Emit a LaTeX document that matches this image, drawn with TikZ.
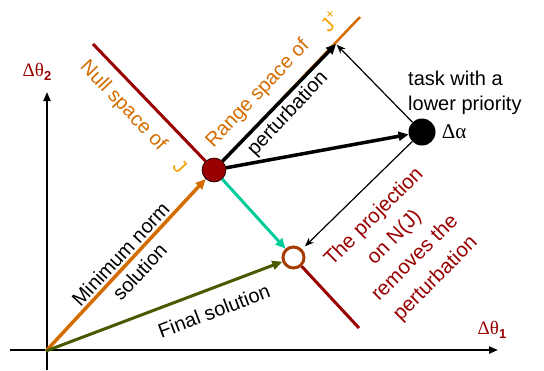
\documentclass[tikz,border=0pt]{standalone}
\usepackage{fontspec}
\setmainfont{Liberation Sans}
\newfontfamily\grk{Liberation Serif}
\usetikzlibrary{arrows.meta}
\usetikzlibrary{positioning}
\definecolor{nullred}{RGB}{153,0,0}
\definecolor{rangeorange}{RGB}{212,108,0}
\definecolor{jorange}{RGB}{245,160,0}
\definecolor{corrteal}{RGB}{0,204,153}
\definecolor{finalolive}{RGB}{72,90,0}
\definecolor{projbrown}{RGB}{166,61,0}
\newcommand{\dth}[1]{{\grk\fontsize{19}{19}\selectfont Δθ}\raisebox{-4pt}{\fontsize{13}{13}\selectfont\bfseries #1}}
\tikzset{
	>={Triangle[length=10pt,width=9pt]},
	axis/.style={draw, line width=2pt, -{Triangle[length=9pt,width=7pt]}},
	vec/.style={draw, line width=3.5pt, ->},
	thinvec/.style={draw, line width=1.2pt, -{Stealth[length=9pt,width=7pt]}},
	lbl/.style={font=\fontsize{20}{26}\selectfont, inner sep=0pt, align=center},
	dot/.style={circle, inner sep=0pt, minimum size=#1},
}

\begin{document}
\begin{tikzpicture}[x=1pt,y=-1pt]
	\useasboundingbox (0,0) rectangle (544,370);
	% axes
	\coordinate (O) at (46,351);
	\coordinate (xend) at (498,350);
	\coordinate (yend) at (47,92);
	\draw[axis] (10,350) -- (xend);
	\draw[axis] (47,370) -- (yend);
	\node[text=nullred] (th2) at (37,72) {\dth{2}};
	\node[text=nullred] (th1) at (492,330) {\dth{1}};

	% the two subspaces
	\coordinate (nulltop) at (93,44);
	\coordinate (nullbot) at (359,328);
	\coordinate (rangetop) at (360,17);
	\coordinate (ptip) at (336,44);
	\node[dot=24pt, fill=nullred, draw=black, line width=0.6pt] (R) at (214,170) {};
	\node[dot=21pt, fill=white, draw=projbrown, line width=3pt] (P) at (293.5,257.5) {};
	\node[dot=27pt, fill=black] (A) at (422,132) {};
	\draw[nullred, line width=3pt] (nulltop) -- (R) (P) -- (nullbot);
	\draw[rangeorange, line width=2.5pt] (R.north east) -- (rangetop);

	% vectors
	\draw[vec, rangeorange] (O) -- (R);
	\draw[vec, finalolive, line width=3pt] (O) -- (P);
	\draw[vec, corrteal, line width=3pt] (R) -- (P);
	\draw[vec, black] (R) -- (ptip);
	\draw[vec, black] (R) -- (A);
	\draw[thinvec, shorten >=1pt] (A) -- (ptip);
	\draw[thinvec, shorten >=4pt] (A) -- (P);

	% labels
	\node[lbl, text=rangeorange, rotate=-46.5] (nulltxt) at (123,106) {Null space of};
	\node[lbl, text=jorange, rotate=-46.5] (nullj) at (180,166) {J};
	\node[lbl, text=rangeorange, rotate=46.5] (rangetxt) at (258,94) {Range space of};
	\node[lbl, text=jorange, rotate=46.5] (rangej) at (330,21) {J\textsuperscript{+}};
	\node[lbl, rotate=46.5] (perttxt) at (288,114) {perturbation};
	\node[lbl, rotate=47] (mintxt) at (130,263) {Minimum norm\\solution};
	\node[lbl, rotate=20.8] (finaltxt) at (214,311) {Final solution};
	\node[lbl, text=nullred, rotate=45, font=\fontsize{20.5}{29}\selectfont] (projtxt) at (405,248) {The projection\\on N(J)\\removes the\\perturbation};
	\node[lbl, align=left, anchor=west, font=\fontsize{20}{25}\selectfont] (task) at (408,93) {task with a\\lower priority};
	\node[right=6pt of A, font=\grk\fontsize{21}{21}\selectfont, inner sep=0pt] (alpha) {Δα};
\end{tikzpicture}
\end{document}
